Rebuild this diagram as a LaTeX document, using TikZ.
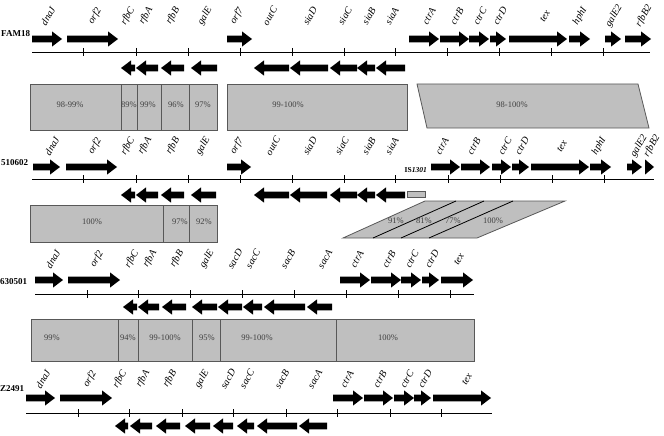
\documentclass[tikz,border=0pt]{standalone}
\usepackage{xcolor}
\usepackage{fontspec}
\setmainfont{Liberation Serif}
\usepackage{tikz}

\definecolor{simgray}{RGB}{191,191,191}
\definecolor{simedge}{RGB}{88,88,88}
\definecolor{pcttext}{RGB}{64,64,64}

\newcommand{\fwdgene}[3]{%
  \pgfmathsetmacro{\genehx}{max(#1,#2-10)}%
  \fill (#1,{#3-3.4}) -- (\genehx,{#3-3.4}) -- (\genehx,{#3-7.6}) -- (#2,#3)
    -- (\genehx,{#3+7.6}) -- (\genehx,{#3+3.4}) -- (#1,{#3+3.4}) -- cycle;}
\newcommand{\revgene}[3]{%
  \pgfmathsetmacro{\genehx}{min(#2,#1+10)}%
  \fill (#2,{#3-3.4}) -- (\genehx,{#3-3.4}) -- (\genehx,{#3-7.6}) -- (#1,#3)
    -- (\genehx,{#3+7.6}) -- (\genehx,{#3+3.4}) -- (#2,{#3+3.4}) -- cycle;}

\begin{document}
\begin{tikzpicture}[x=1pt, y=-1pt,
    genelabel/.style={font=\itshape\fontsize{10}{12}\selectfont, rotate=60, inner sep=0pt},
    strain/.style={font=\bfseries\fontsize{9}{11}\selectfont, anchor=west, inner sep=0pt},
    pct/.style={font=\fontsize{8.5}{10}\selectfont, text=pcttext, inner sep=0pt},
    simbox/.style={fill=simgray, draw=simedge, line width=0.8pt},
    axis/.style={line width=0.9pt}]
  \useasboundingbox (0,0) rectangle (664,436);

  % FAM18
  \node[strain] (fam) at (1,34) {FAM18};
  \foreach \a/\b in {32/62,67/118,227/252,409/439,440/469,469/489,490/506,509/567,569/590,605/621,625/651}
    \fwdgene{\a}{\b}{39};
  \foreach \a/\b in {121/135,136/158,161/184,191/217,254/289,290/328,330/357,357/375,376/405}
    \revgene{\a}{\b}{68};
  \draw[axis] (32,52) -- (650,52);
  \foreach \x in {83,136,188,240,292,344,395,447,499,551,603}
    \draw[axis] (\x,48) -- (\x,56);
  \foreach \x/\g in {48/dnaJ,95/orf2,128/rfbC,146/rfbA,173/rfbB,205/galE,237/orf7,270/outC,310/siaD,345/siaC,369/siaB,392/siaA,429/ctrA,457/ctrB,480/ctrC,500/ctrD,545/tex,580/hphI,614/galE2,644/rfbB2}
    \node[genelabel] (fam-\g) at (\x,16) {\g};

  \draw[simbox] (30,84) rectangle (121,130);
  \draw[simbox] (121,84) rectangle (137,130);
  \draw[simbox] (137,84) rectangle (161,130);
  \draw[simbox] (161,84) rectangle (189,130);
  \draw[simbox] (189,84) rectangle (217,130);
  \draw[simbox] (227,84) rectangle (407,130);
  \draw[simbox] (417,84) -- (638,84) -- (649,128) -- (427,128) -- cycle;
  \node[pct] (p1a) at (70,105) {98-99\%};
  \node[pct] (p1b) at (129,105) {89\%};
  \node[pct] (p1c) at (148,105) {99\%};
  \node[pct] (p1d) at (176,105) {96\%};
  \node[pct] (p1e) at (203,105) {97\%};
  \node[pct] (p1f) at (288,105) {99-100\%};
  \node[pct] (p1g) at (512,105) {98-100\%};

  % 510602
  \node[strain] (s510) at (1,163) {510602};
  \foreach \a/\b in {33/60,66/117,227/251,431/460,461/490,492/511,512/529,531/589,590/611,627/642,645/654}
    \fwdgene{\a}{\b}{167};
  \foreach \a/\b in {121/135,136/158,161/184,191/216,254/289,290/327,330/357,357/375,376/405}
    \revgene{\a}{\b}{195};
  \draw[simbox] (407,191) rectangle (425,197);
  \node[font=\bfseries\fontsize{7.5}{9}\selectfont, inner sep=0pt, anchor=east] (is) at (427,170) {IS\textit{1301}};
  \draw[axis] (32,179) -- (654,179);
  \foreach \x in {83,136,188,240,292,344,395,448,500,552,604}
    \draw[axis] (\x,175) -- (\x,183);
  \foreach \x/\g in {52/dnaJ,95/orf2,128/rfbC,145/rfbA,173/rfbB,203/galE,237/orf7,273/outC,310/siaD,342/siaC,369/siaB,392/siaA,442/ctrA,474/ctrB,505/ctrC,522/ctrD,562/tex,599/hphI,639/galE2,652/rfbB2}
    \node[genelabel] (s510-\g) at (\x,146) {\g};

  \draw[simbox] (30,205) rectangle (163,242);
  \draw[simbox] (163,205) rectangle (189,242);
  \draw[simbox] (189,205) rectangle (217,242);
  \draw[simbox] (343,238) -- (477,238) -- (565,201) -- (425,201) -- cycle;
  \draw[line width=0.8pt] (373,238) -- (456,201);
  \draw[line width=0.8pt] (401,238) -- (484,201);
  \draw[line width=0.8pt] (429,238) -- (513,201);
  \node[pct] (p2a) at (92,222) {100\%};
  \node[pct] (p2b) at (180,222) {97\%};
  \node[pct] (p2c) at (204,222) {92\%};
  \node[pct] (p2d) at (396,221) {91\%};
  \node[pct] (p2e) at (424,221) {81\%};
  \node[pct] (p2f) at (453,221) {77\%};
  \node[pct] (p2g) at (493,221) {100\%};

  % 630501
  \node[strain] (s630) at (0,282) {630501};
  \foreach \a/\b in {35/63,68/120,340/370,371/401,401/421,422/439,441/473}
    \fwdgene{\a}{\b}{280};
  \foreach \a/\b in {123/137,138/159,162/186,192/217,218/242,243/262,264/305,307/332}
    \revgene{\a}{\b}{307};
  \draw[axis] (35,294) -- (474,294);
  \foreach \x in {87,138,190,242,294,346,398,450}
    \draw[axis] (\x,290) -- (\x,298);
  \foreach \x/\g in {53/dnaJ,97/orf2,132/rfbC,150/rfbA,177/rfbB,207/galE,235/sacD,253/sacC,288/sacB,325/sacA,357/ctrA,389/ctrB,412/ctrC,432/ctrD,459/tex}
    \node[genelabel] (s630-\g) at (\x,259) {\g};

  \draw[simbox] (31,319) rectangle (118,361);
  \draw[simbox] (118,319) rectangle (138,361);
  \draw[simbox] (138,319) rectangle (192,361);
  \draw[simbox] (192,319) rectangle (220,361);
  \draw[simbox] (220,319) rectangle (336,361);
  \draw[simbox] (336,319) rectangle (474,361);
  \node[pct] (p3a) at (52,338) {99\%};
  \node[pct] (p3b) at (128,338) {94\%};
  \node[pct] (p3c) at (165,338) {99-100\%};
  \node[pct] (p3d) at (207,338) {95\%};
  \node[pct] (p3e) at (257,338) {99-100\%};
  \node[pct] (p3f) at (388,338) {100\%};

  % Z2491
  \node[strain] (z2491) at (0,389) {Z2491};
  \foreach \a/\b in {26/55,60/112,333/363,364/393,394/414,414/431,433/491}
    \fwdgene{\a}{\b}{398};
  \foreach \a/\b in {115/128,130/152,156/180,185/210,213/233,237/254,257/297,299/327}
    \revgene{\a}{\b}{426};
  \draw[axis] (26,413) -- (492,413);
  \foreach \x in {78,129,182,233,286,337,390,441}
    \draw[axis] (\x,409) -- (\x,417);
  \foreach \x/\g in {43/dnaJ,90/orf2,120/rfbC,143/rfbA,170/rfbB,202/galE,228/sacD,247/sacC,282/sacB,315/sacA,347/ctrA,380/ctrB,407/ctrC,425/ctrD,467/tex}
    \node[genelabel] (z-\g) at (\x,379) {\g};
\end{tikzpicture}
\end{document}
